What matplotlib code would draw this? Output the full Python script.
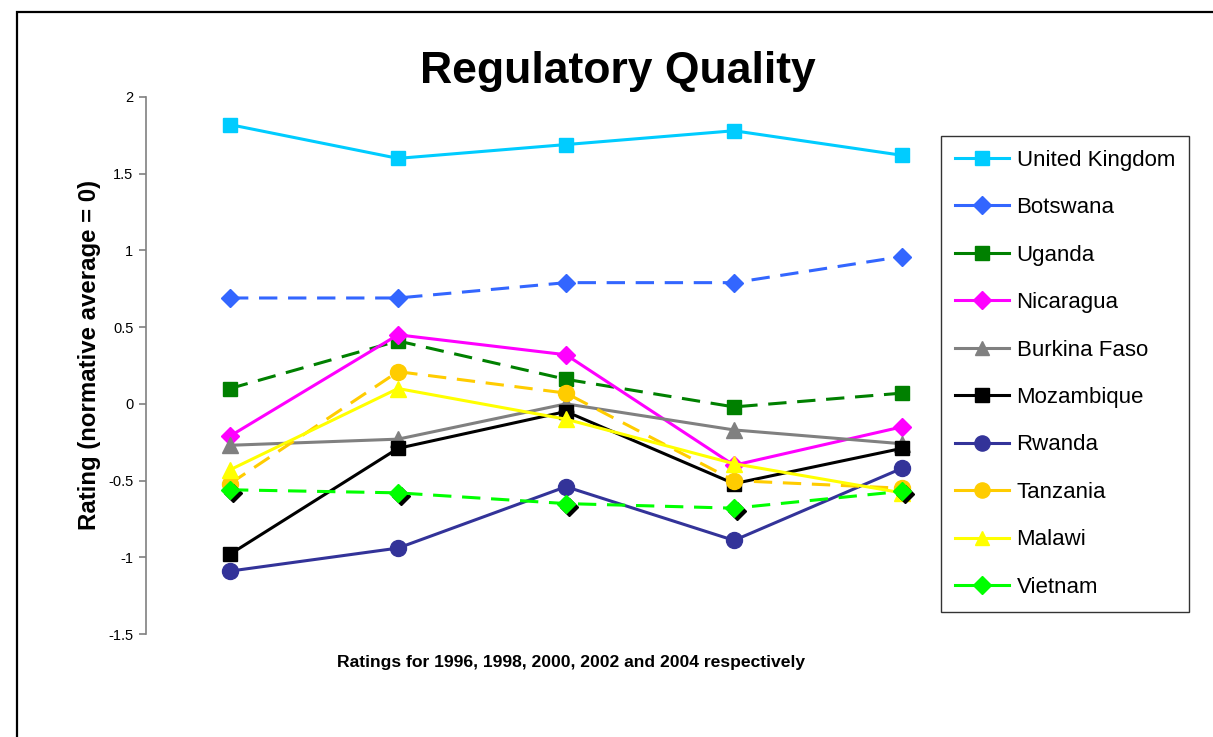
import matplotlib
matplotlib.use("Agg")
import matplotlib.pyplot as plt
import matplotlib.transforms as mtransforms
from matplotlib.lines import Line2D
from matplotlib.patches import Rectangle

plt.rcParams['font.family'] = ['Liberation Sans', 'DejaVu Sans']

years = ["1996", "1998", "2000", "2002", "2004"]

united_kingdom = [1.82, 1.60, 1.69, 1.78, 1.62]
botswana = [0.69, 0.69, 0.79, 0.79, 0.96]
uganda = [0.10, 0.41, 0.16, -0.02, 0.07]
nicaragua = [-0.21, 0.45, 0.32, -0.40, -0.15]
burkina_faso = [-0.27, -0.23, 0.00, -0.17, -0.26]
mozambique = [-0.98, -0.29, -0.05, -0.52, -0.29]
rwanda = [-1.09, -0.94, -0.54, -0.89, -0.42]
tanzania = [-0.52, 0.21, 0.07, -0.50, -0.55]
malawi = [-0.43, 0.10, -0.10, -0.39, -0.58]
vietnam = [-0.56, -0.58, -0.65, -0.68, -0.57]

series = [
    ("United Kingdom", united_kingdom, "#00CCFF", "s", "-", 10),
    ("Botswana", botswana, "#3366FF", "D", "--", 9.5),
    ("Uganda", uganda, "#008000", "s", "--", 10),
    ("Nicaragua", nicaragua, "#FF00FF", "D", "-", 9.5),
    ("Burkina Faso", burkina_faso, "#808080", "^", "-", 11),
    ("Mozambique", mozambique, "#000000", "s", "-", 10),
    ("Rwanda", rwanda, "#333399", "o", "-", 11.5),
    ("Tanzania", tanzania, "#FFCC00", "o", "--", 11.5),
    ("Malawi", malawi, "#FFFF00", "^", "-", 11),
    ("Vietnam", vietnam, "#00FF00", "D", "--", 9.5),
]

W, H = 1213, 737
fig = plt.figure(figsize=(W / 100, H / 100), dpi=100)
ax = fig.add_axes([146 / W, 1 - 634 / H, 840 / W, 537 / H])

x = list(range(len(years)))
handles = []
for name, vals, color, marker, ls, ms in series:
    if name == "Vietnam":
        shadow = mtransforms.offset_copy(ax.transData, fig=fig, x=3, y=-3, units='dots')
        ax.plot(x, vals, linestyle='none', marker='D', ms=ms, color='black',
                transform=shadow, zorder=2)
    line, = ax.plot(x, vals, color=color, lw=2.2, marker=marker, ms=ms,
                    markeredgecolor=color, zorder=2)
    if ls == "--":
        line.set_dashes((6, 3.5))
    handles.append(Line2D([], [], color=color, lw=2.2, marker=marker, ms=ms * 0.95,
                          markeredgecolor=color, label=name))

ax.set_xlim(-0.5, 4.5)
ax.set_ylim(-1.5, 2)
ax.set_yticks([-1.5, -1, -0.5, 0, 0.5, 1, 1.5, 2])
ax.set_yticklabels(["-1.5", "-1", "-0.5", "0", "0.5", "1", "1.5", "2"])
ax.set_xticks([])
for s in ["top", "right", "bottom"]:
    ax.spines[s].set_visible(False)
ax.spines["left"].set_color("#808080")
ax.spines["left"].set_linewidth(1.2)
ax.tick_params(axis='y', direction='out', length=5, width=1.2, color="#808080",
               labelsize=10.5, pad=4)

fig.text(90 / W, 1 - 355 / H, "Rating (normative average = 0)", rotation=90,
         ha='center', va='center', fontsize=17.3, fontweight='bold')
fig.text(571 / W, 1 - 663 / H, "Ratings for 1996, 1998, 2000, 2002 and 2004 respectively",
         ha='center', va='center', fontsize=12.6, fontweight='bold')
fig.text(618 / W, 1 - 72 / H, "Regulatory Quality", ha='center', va='center',
         fontsize=32, fontweight='bold')

leg = fig.legend(handles=handles, loc='upper left',
                 bbox_to_anchor=(941 / W, 1 - 136 / H), bbox_transform=fig.transFigure,
                 fontsize=16, frameon=True, fancybox=False, edgecolor='#000000',
                 handlelength=2.45, handletextpad=0.33, labelspacing=1.19,
                 borderpad=0.62, borderaxespad=0)
leg.get_frame().set_linewidth(1.0)

fig.patches.append(Rectangle((17 / W, -0.1), 1.2, 1 - 12 / H + 0.1, transform=fig.transFigure,
                             fill=False, edgecolor='black', lw=1.6, clip_on=False))

fig.savefig("out.png", dpi=100)
